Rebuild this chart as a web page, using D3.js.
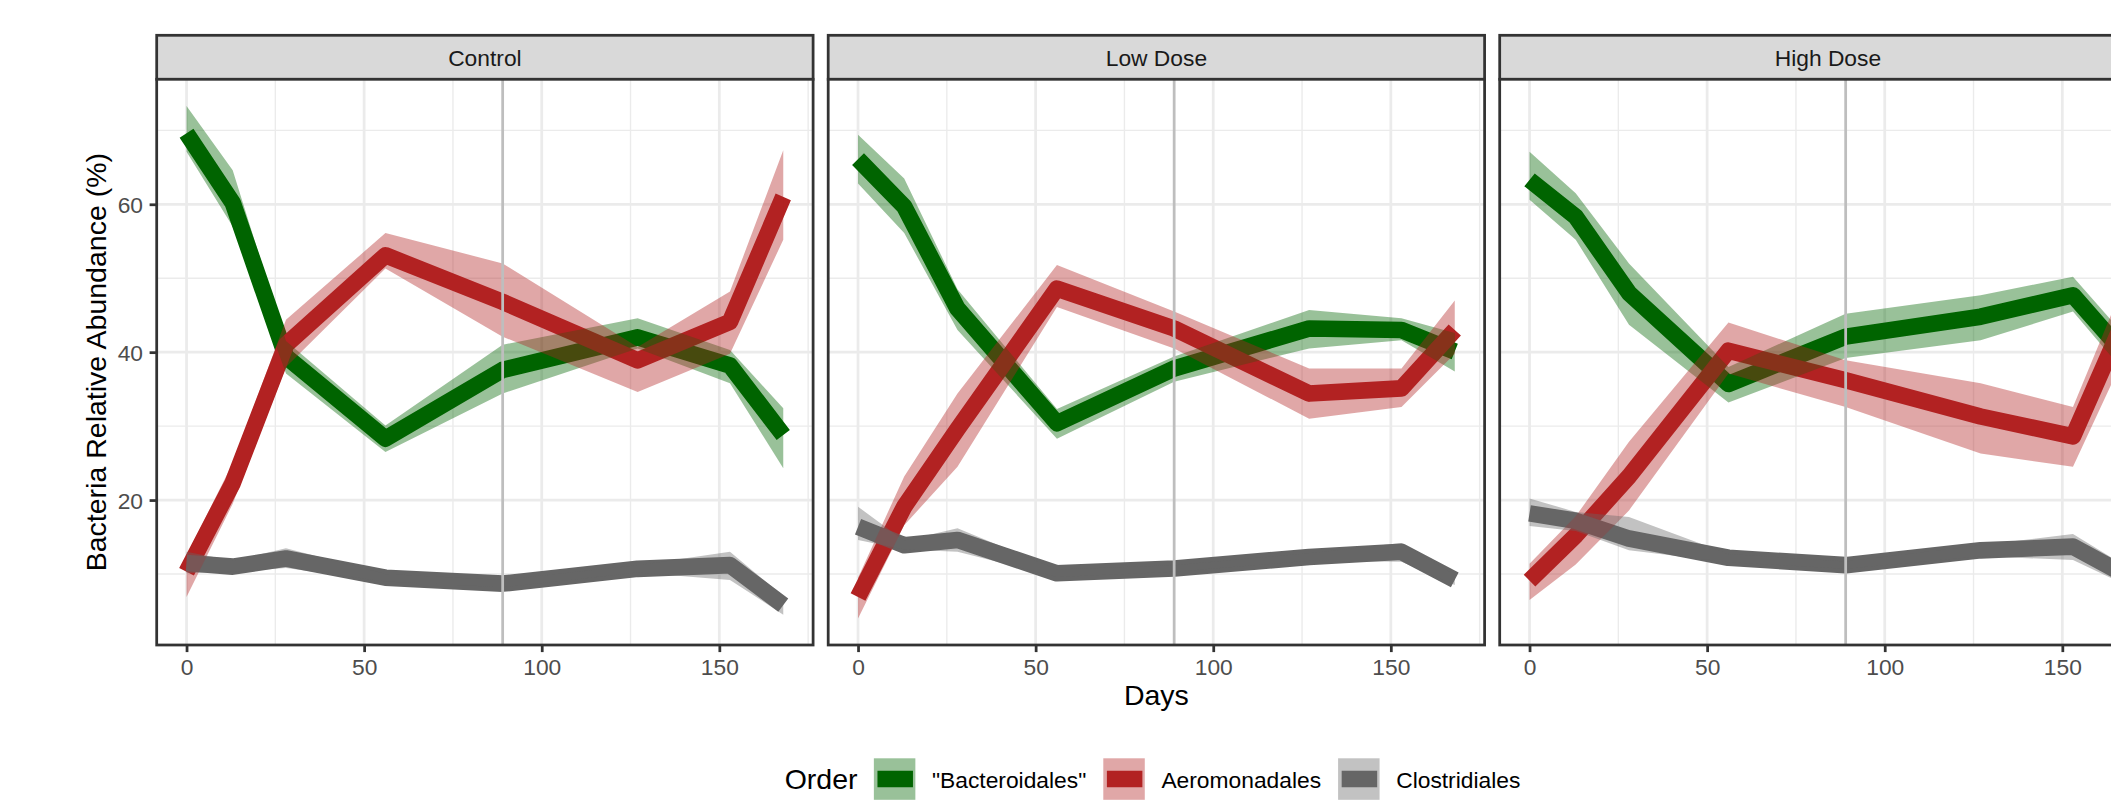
<!DOCTYPE html>
<html><head><meta charset="utf-8">
<script src="https://cdn.jsdelivr.net/npm/d3@7"></script>
<style>
html,body{margin:0;padding:0;background:#fff;}
svg{display:block;font-family:"Liberation Sans",Arial,Helvetica,sans-serif;}
</style></head><body>
<svg id="chart" width="2111" height="800"></svg>
<script>
// ---------------- DATA ----------------
const days = [0, 13, 28, 56, 89, 127, 153, 168];
const panels = ["Control", "Low Dose", "High Dose"];
const orders = ['"Bacteroidales"', "Aeromonadales", "Clostridiales"];
const markerDay = 89;
const xTicks = [0, 50, 100, 150];
const xMinorTicks = [25, 75, 125, 175];
const yTicks = [20, 40, 60];
const yMinorTicks = [10, 30, 50, 70];

// Control
const ctrlBact   = [69.6, 60.2, 39.4, 28.3, 37.6, 42.0, 38.2, 28.8];
const ctrlBactLo = [67.1, 57.0, 37.1, 26.5, 34.4, 40.5, 35.8, 24.3];
const ctrlBactHi = [73.3, 64.6, 41.5, 30.1, 41.0, 44.6, 40.3, 32.4];
const ctrlAero   = [10.3, 22.3, 41.0, 53.1, 46.8, 38.9, 44.1, 61.0];
const ctrlAeroLo = [6.9, 19.5, 38.0, 51.3, 42.1, 34.6, 39.8, 55.2];
const ctrlAeroHi = [12.5, 25.0, 44.4, 56.1, 52.0, 40.7, 48.2, 67.3];
const ctrlClos   = [11.5, 11.0, 12.1, 9.5, 8.7, 10.7, 11.2, 5.8];
const ctrlClosLo = [10.1, 10.3, 10.8, 9.0, 8.2, 10.2, 9.2, 4.5];
const ctrlClosHi = [13.0, 11.8, 13.5, 10.0, 9.2, 11.2, 13.0, 7.0];
// Low Dose
const lowBact    = [66.1, 59.7, 45.9, 30.4, 37.8, 43.2, 43.0, 40.1];
const lowBactLo  = [62.8, 56.1, 43.0, 28.3, 36.0, 40.5, 41.6, 37.4];
const lowBactHi  = [69.4, 63.5, 48.5, 32.3, 39.4, 45.7, 44.6, 42.6];
const lowAero    = [6.9, 19.1, 29.6, 48.6, 43.2, 34.4, 35.1, 43.0];
const lowAeroLo  = [4.0, 16.6, 24.5, 46.1, 40.5, 31.0, 32.6, 39.8];
const lowAeroHi  = [9.5, 23.2, 34.4, 51.8, 45.5, 37.8, 37.8, 47.0];
const lowClos    = [16.4, 13.9, 14.6, 10.1, 10.75, 12.3, 13.0, 9.2];
const lowClosLo  = [14.6, 13.3, 13.0, 9.6, 10.3, 11.8, 11.65, 8.5];
const lowClosHi  = [19.1, 14.5, 16.2, 10.6, 11.2, 12.8, 14.2, 9.9];
// High Dose
const highBact   = [63.3, 58.3, 48.0, 35.7, 42.1, 44.8, 47.7, 39.5];
const highBactLo = [60.6, 55.2, 43.7, 33.2, 39.2, 41.6, 45.5, 37.0];
const highBactHi = [67.1, 61.5, 52.0, 38.0, 45.2, 47.7, 50.2, 42.0];
const highAero   = [9.1, 15.2, 23.2, 40.2, 36.2, 31.3, 28.6, 45.0];
const highAeroLo = [6.5, 11.3, 18.6, 37.1, 32.6, 26.3, 24.5, 40.0];
const highAeroHi = [11.4, 17.8, 27.9, 44.0, 38.9, 35.8, 32.6, 50.0];
const highClos   = [18.2, 17.2, 14.8, 12.2, 11.2, 13.2, 13.7, 9.8];
const highClosLo = [16.5, 15.8, 13.2, 11.6, 10.7, 12.4, 11.9, 8.5];
const highClosHi = [20.2, 18.4, 17.7, 12.7, 11.7, 13.9, 15.4, 11.0];

const panelSeries = [
  [[ctrlBact, ctrlBactLo, ctrlBactHi], [ctrlAero, ctrlAeroLo, ctrlAeroHi], [ctrlClos, ctrlClosLo, ctrlClosHi]],
  [[lowBact, lowBactLo, lowBactHi], [lowAero, lowAeroLo, lowAeroHi], [lowClos, lowClosLo, lowClosHi]],
  [[highBact, highBactLo, highBactHi], [highAero, highAeroLo, highAeroHi], [highClos, highClosLo, highClosHi]]
];

// ---------------- STYLE / LAYOUT ----------------
const colors = ["#006400", "#B22222", "#666666"];
const ribbonAlpha = 0.4;
const lineW = 16.6;
const baseLW = 2.76;
const panelLeft0 = 156.7, panelStep = 671.5, panelW = 656.4;
const stripTop = 35.3, panelTop = 79.3, panelBottom = 645;
const fsSmall = 22.8, fsLarge = 28.5;

const svg = d3.select("#chart");
svg.append("rect").attr("width", 2111).attr("height", 800).attr("fill", "#fff");

const x = d3.scaleLinear().domain([-8.4, 176.4]).range([0, panelW]);
const y = d3.scaleLinear().domain([0.4, 76.9]).range([panelBottom, panelTop]);

const defs = svg.append("defs");

panels.forEach((name, pi) => {
  const left = panelLeft0 + pi * panelStep;
  const g = svg.append("g").attr("transform", `translate(${left},0)`);

  // strip
  g.append("rect").attr("x", 0).attr("y", stripTop).attr("width", panelW).attr("height", panelTop - stripTop)
    .attr("fill", "#d9d9d9").attr("stroke", "#333333").attr("stroke-width", baseLW);
  g.append("text").attr("x", panelW / 2).attr("y", 65.6).attr("text-anchor", "middle")
    .attr("font-size", fsSmall).attr("fill", "#1a1a1a").text(name);

  // panel background
  g.append("rect").attr("x", 0).attr("y", panelTop).attr("width", panelW).attr("height", panelBottom - panelTop)
    .attr("fill", "#fff");

  const clipId = "clip" + pi;
  defs.append("clipPath").attr("id", clipId).append("rect")
    .attr("x", 0).attr("y", panelTop).attr("width", panelW).attr("height", panelBottom - panelTop);
  const pg = g.append("g").attr("clip-path", `url(#${clipId})`);

  // grid minor
  pg.selectAll(".xmin").data(xMinorTicks).enter().append("line")
    .attr("x1", d => x(d)).attr("x2", d => x(d)).attr("y1", panelTop).attr("y2", panelBottom)
    .attr("stroke", "#ebebeb").attr("stroke-width", baseLW / 2);
  pg.selectAll(".ymin").data(yMinorTicks).enter().append("line")
    .attr("x1", 0).attr("x2", panelW).attr("y1", d => y(d)).attr("y2", d => y(d))
    .attr("stroke", "#ebebeb").attr("stroke-width", baseLW / 2);
  // grid major
  pg.selectAll(".xmaj").data(xTicks).enter().append("line")
    .attr("x1", d => x(d)).attr("x2", d => x(d)).attr("y1", panelTop).attr("y2", panelBottom)
    .attr("stroke", "#ebebeb").attr("stroke-width", baseLW);
  pg.selectAll(".ymaj").data(yTicks).enter().append("line")
    .attr("x1", 0).attr("x2", panelW).attr("y1", d => y(d)).attr("y2", d => y(d))
    .attr("stroke", "#ebebeb").attr("stroke-width", baseLW);

  const series = panelSeries[pi];
  const line = d3.line().x((d, i) => x(days[i])).y(d => y(d));
  // lines first
  series.forEach((s, si) => {
    pg.append("path").datum(s[0]).attr("d", line)
      .attr("fill", "none").attr("stroke", colors[si]).attr("stroke-width", lineW)
      .attr("stroke-linejoin", "round").attr("stroke-linecap", "butt");
  });
  // ribbons on top
  series.forEach((s, si) => {
    const area = d3.area().x((d, i) => x(days[i])).y0((d, i) => y(s[1][i])).y1((d, i) => y(s[2][i]));
    pg.append("path").datum(s[0]).attr("d", area)
      .attr("fill", colors[si]).attr("fill-opacity", ribbonAlpha).attr("stroke", "none");
  });
  // vertical marker
  pg.append("line").attr("x1", x(markerDay)).attr("x2", x(markerDay)).attr("y1", panelTop).attr("y2", panelBottom)
    .attr("stroke", "#bebebe").attr("stroke-width", baseLW);

  // panel border
  g.append("rect").attr("x", 0).attr("y", panelTop).attr("width", panelW).attr("height", panelBottom - panelTop)
    .attr("fill", "none").attr("stroke", "#333333").attr("stroke-width", baseLW);

  // x axis
  const xa = g.append("g").attr("transform", `translate(0,${panelBottom})`)
    .call(d3.axisBottom(x).tickValues(xTicks).tickSize(7.1).tickPadding(7.2).tickFormat(d3.format("d")));
  xa.select(".domain").remove();
  xa.selectAll(".tick line").attr("stroke", "#333333").attr("stroke-width", baseLW);
  xa.selectAll(".tick text").attr("font-size", fsSmall).attr("fill", "#4d4d4d")
    .attr("font-family", '"Liberation Sans",Arial,Helvetica,sans-serif');

  if (pi === 0) {
    const ya = g.append("g")
      .call(d3.axisLeft(y).tickValues(yTicks).tickSize(7.1).tickPadding(6.6).tickFormat(d3.format("d")));
    ya.select(".domain").remove();
    ya.selectAll(".tick line").attr("stroke", "#333333").attr("stroke-width", baseLW);
    ya.selectAll(".tick text").attr("font-size", fsSmall).attr("fill", "#4d4d4d").attr("dy", "0.37em")
      .attr("font-family", '"Liberation Sans",Arial,Helvetica,sans-serif');
  }
});

// axis titles
svg.append("text").attr("x", (panelLeft0 + panelLeft0 + 2 * panelStep + panelW) / 2).attr("y", 705)
  .attr("text-anchor", "middle").attr("font-size", fsLarge).attr("fill", "#000").text("Days");
svg.append("text").attr("transform", `translate(106,${(panelTop + panelBottom) / 2}) rotate(-90)`)
  .attr("text-anchor", "middle").attr("font-size", fsLarge).attr("fill", "#000")
  .text("Bacteria Relative Abundance (%)");

// legend
const lg = svg.append("g");
let lx = 784.7;
const keySize = 41.5, keyTop = 758.3;
const title = lg.append("text").attr("x", lx).attr("y", 789.3).attr("font-size", fsLarge).attr("fill", "#000").text("Order");
lx += title.node().getComputedTextLength() + 16.3;
orders.forEach((o, i) => {
  lg.append("rect").attr("x", lx).attr("y", keyTop).attr("width", keySize).attr("height", keySize)
    .attr("fill", colors[i]).attr("fill-opacity", ribbonAlpha);
  lg.append("line").attr("x1", lx + 3.6).attr("x2", lx + keySize - 2.4)
    .attr("y1", keyTop + keySize / 2).attr("y2", keyTop + keySize / 2)
    .attr("stroke", colors[i]).attr("stroke-width", lineW);
  lx += keySize + 16.6;
  const t = lg.append("text").attr("x", lx).attr("y", 787.5).attr("font-size", fsSmall).attr("fill", "#000").text(o);
  lx += t.node().getComputedTextLength() + 17;
});
</script></body></html>
